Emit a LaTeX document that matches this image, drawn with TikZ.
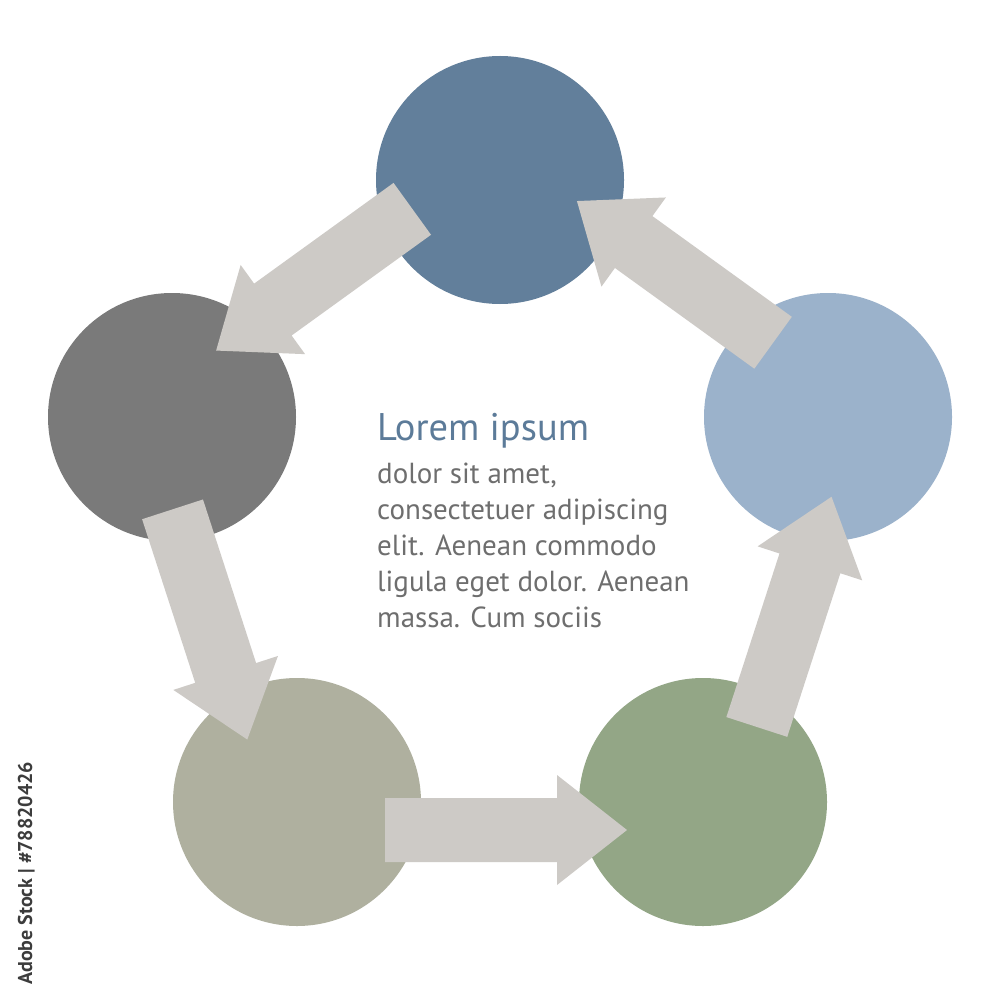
\documentclass[tikz,border=0pt]{standalone}
\usepackage{fontspec}
\setmainfont{PT Sans}
\usetikzlibrary{calc}
\definecolor{cTop}{HTML}{627F9B}
\definecolor{cRight}{HTML}{9BB2CB}
\definecolor{cBR}{HTML}{93A686}
\definecolor{cBL}{HTML}{AFB09F}
\definecolor{cLeft}{HTML}{7A7A7A}
\definecolor{arrowgray}{HTML}{CDCAC6}
\definecolor{titleblue}{HTML}{5C7B99}
\definecolor{bodygray}{HTML}{6E6E6E}
\definecolor{stockgray}{HTML}{3C3C3C}
\newcommand\blkarrow[2]{%
  \fill[blk] ($(#1)!88pt!(#2)!4pt!90:(#2)$) -- ($(#1)!260pt!(#2)!4pt!90:(#2)$)
    -- ($(#1)!260pt!(#2)!27pt!90:(#2)$) -- ($(#1)!330pt!(#2)!28pt!-90:(#2)$)
    -- ($(#1)!260pt!(#2)!83pt!-90:(#2)$) -- ($(#1)!260pt!(#2)!60pt!-90:(#2)$)
    -- ($(#1)!88pt!(#2)!60pt!-90:(#2)$) -- cycle;}
\begin{document}
\begin{tikzpicture}[x=1pt,y=-1pt,
  disc/.style={circle, inner sep=0pt, minimum size=248pt, draw=none},
  blk/.style={fill=arrowgray, draw=none}]
\useasboundingbox (0,0) rectangle (1000,1000);
\fill[white] (0,0) rectangle (1000,1000);
\node[disc, fill=cTop]   (top)   at (500,180) {};
\node[disc, fill=cRight] (right) at (828,417) {};
\node[disc, fill=cBR]    (br)    at (703,802) {};
\node[disc, fill=cBL]    (bl)    at (297,802) {};
\node[disc, fill=cLeft]  (left)  at (172,417) {};
\blkarrow{bl}{br}
\blkarrow{br}{right}
\blkarrow{right}{top}
\blkarrow{top}{left}
\blkarrow{left}{bl}
\node[anchor=base west, inner sep=0pt, text=titleblue, font=\fontsize{38.5}{40}\selectfont] (title) at (377,440) {Lorem ipsum};
\node[anchor=base west, inner sep=0pt, text=bodygray, align=left, font=\fontsize{29}{36}\selectfont] (body) at (377,627)
 {dolor sit amet,\\consectetuer adipiscing\\elit. Aenean commodo\\ligula eget dolor. Aenean\\massa. Cum sociis};
\node[anchor=base west, inner sep=0pt, rotate=90, text=stockgray, font=\bfseries\fontsize{20}{22}\selectfont] (stock) at (32,985) {Adobe Stock | \#78820426};
\end{tikzpicture}
\end{document}
